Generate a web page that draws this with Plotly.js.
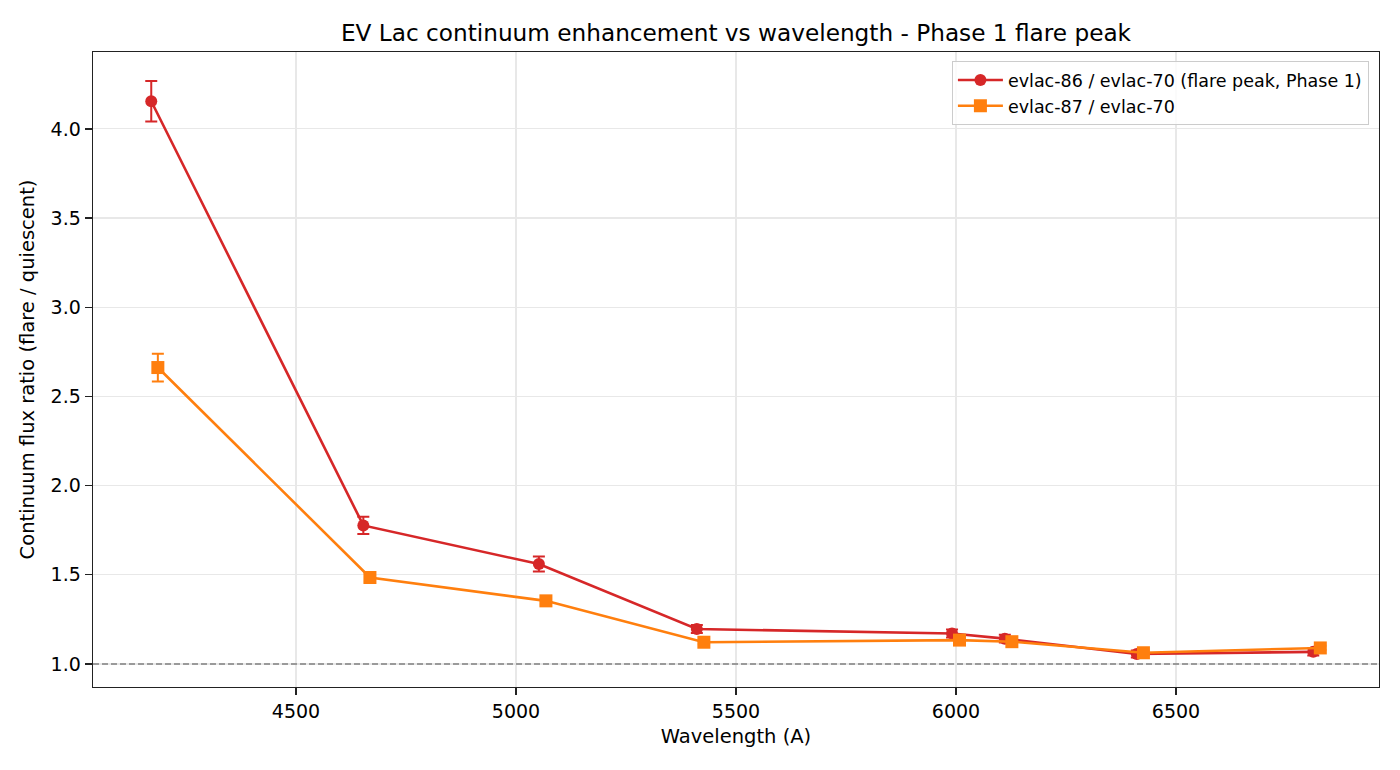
<!DOCTYPE html>
<html>
<head>
<meta charset="utf-8">
<script src="https://cdn.plot.ly/plotly-3.0.1.min.js"></script>
<style>
  html, body { margin: 0; padding: 0; background: #fff; }
  #chart { width: 1400px; height: 770px; }
</style>
</head>
<body>
<div id="chart"></div>
<script>
// flare peak ratio (evlac-86 / evlac-70)
const wavePeak = [4171, 4653, 5052, 5411, 5991, 6111, 6411, 6812];
const ratioPeak = [4.155, 1.777, 1.560, 1.196, 1.171, 1.142, 1.056, 1.068];
const errPeak = [0.113, 0.048, 0.042, 0.022, 0.022, 0.022, 0.020, 0.020];

// evlac-87 / evlac-70
const waveNext = [4186, 4668, 5068, 5427, 6008, 6127, 6426, 6828];
const ratioNext = [2.662, 1.485, 1.354, 1.122, 1.134, 1.125, 1.063, 1.090];
const errNext = [0.078, 0.022, 0.020, 0.012, 0.012, 0.012, 0.012, 0.012];

// quiescent level reference
const baseline = 1.0;

const xTicks = [4500, 5000, 5500, 6000, 6500];
const yTicks = [1.0, 1.5, 2.0, 2.5, 3.0, 3.5, 4.0];
const xRange = [4038.6, 6961.4];

const red = "#d62728";
const orange = "#ff7f0e";
const font = "DejaVu Sans, sans-serif";

const traces = [
  {
    x: xRange,
    y: [baseline, baseline],
    type: "scatter",
    mode: "lines",
    line: { color: "#808080", width: 1.6, dash: "6px,3px" },
    hoverinfo: "skip",
    showlegend: false,
  },
  {
    x: wavePeak,
    y: ratioPeak,
    error_y: { type: "data", array: errPeak, color: red, thickness: 2, width: 6 },
    type: "scatter",
    mode: "lines+markers",
    line: { color: red, width: 2.6 },
    marker: { color: red, size: 12, symbol: "circle" },
    name: "evlac-86 / evlac-70 (flare peak, Phase 1)",
  },
  {
    x: waveNext,
    y: ratioNext,
    error_y: { type: "data", array: errNext, color: orange, thickness: 2, width: 6 },
    type: "scatter",
    mode: "lines+markers",
    line: { color: orange, width: 2.6 },
    marker: { color: orange, size: 13, symbol: "square" },
    name: "evlac-87 / evlac-70",
  },
];

const axisCommon = {
  showline: true,
  linecolor: "#222",
  linewidth: 1.4,
  mirror: true,
  ticks: "outside",
  ticklen: 7,
  tickwidth: 1.4,
  tickcolor: "#222",
  showgrid: true,
  gridcolor: "#e8e8e8",
  gridwidth: 1.2,
  zeroline: false,
  tickfont: { family: font, size: 19, color: "#000" },
};

const layout = {
  width: 1400,
  height: 770,
  margin: { l: 93, r: 21, t: 52, b: 83 },
  paper_bgcolor: "#fff",
  plot_bgcolor: "#fff",
  font: { family: font, color: "#000" },
  title: {
    text: "EV Lac continuum enhancement vs wavelength - Phase 1 flare peak",
    font: { family: font, size: 23.2, color: "#000" },
    xref: "paper",
    x: 0.5,
    xanchor: "center",
    y: 0.957,
    yanchor: "middle",
  },
  xaxis: Object.assign({}, axisCommon, {
    range: xRange,
    tickvals: xTicks,
    ticktext: xTicks.map(String),
    title: { text: "Wavelength (A)", font: { family: font, size: 19.5, color: "#000" }, standoff: 8 },
  }),
  yaxis: Object.assign({}, axisCommon, {
    range: [0.871, 4.431],
    tickvals: yTicks,
    ticktext: yTicks.map((v) => v.toFixed(1)),
    title: { text: "Continuum flux ratio (flare / quiescent)", font: { family: font, size: 19.5, color: "#000" }, standoff: 10 },
  }),
  legend: {
    x: 0.992,
    xanchor: "right",
    y: 0.986,
    yanchor: "top",
    bgcolor: "rgba(255,255,255,0.8)",
    bordercolor: "#cccccc",
    borderwidth: 1.2,
    itemwidth: 45,
    font: { family: font, size: 17.5, color: "#000" },
    tracegroupgap: 2,
  },
  showlegend: true,
};

Plotly.newPlot("chart", traces, layout, { displayModeBar: false, staticPlot: true });
</script>
</body>
</html>
